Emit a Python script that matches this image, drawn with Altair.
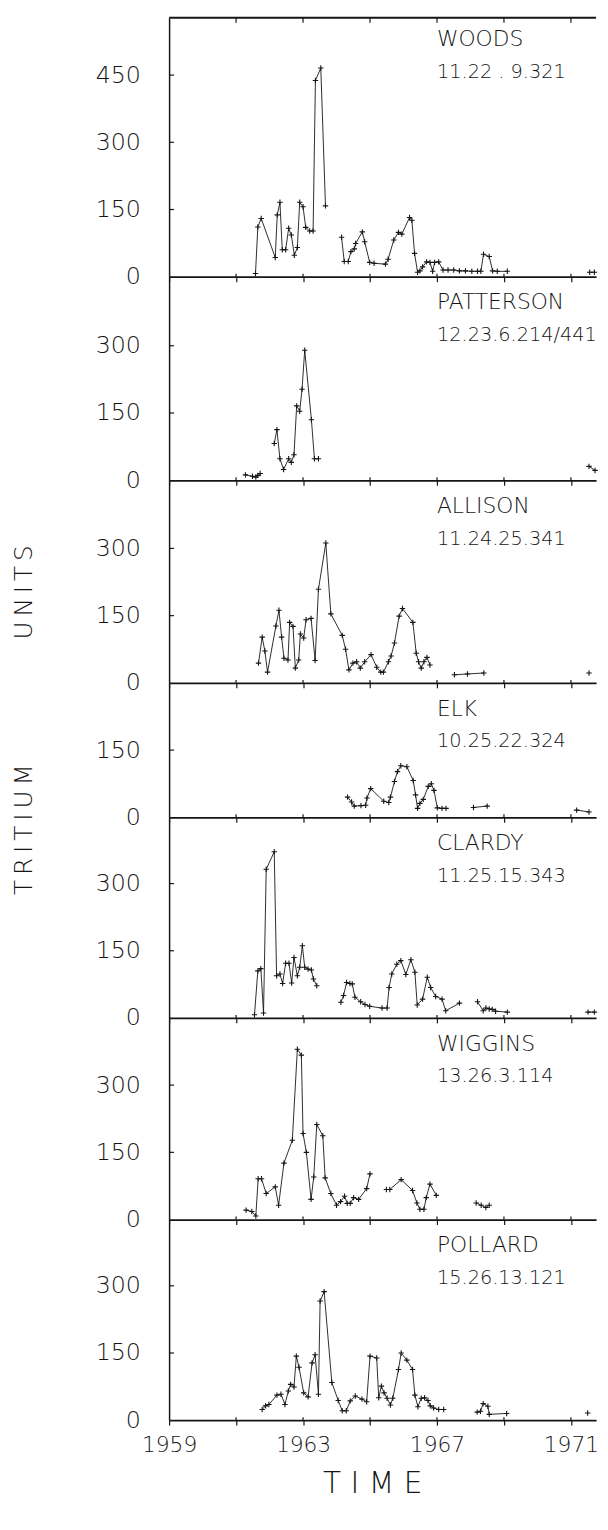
import altair as alt
import pandas as pd

FONT = "DejaVu Sans"
WEIGHT = 200
INK = "#151515"

NAMES = ["WOODS", "PATTERSON", "ALLISON", "ELK", "CLARDY", "WIGGINS", "POLLARD"]
CODES = ["11.22 . 9.321", "12.23.6.214/441", "11.24.25.341", "10.25.22.324",
         "11.25.15.343", "13.26.3.114", "15.26.13.121"]
X_TITLE = "T I M E"
Y_MAX = [578, 454, 452, 300, 448, 450, 448]
Y_TICKS = [[0, 150, 300, 450], [0, 150, 300], [0, 150, 300], [0, 150],
           [0, 150, 300], [0, 150, 300], [0, 150, 300]]
X_TICKS = [1959, 1961, 1963, 1965, 1967, 1969, 1971]
X_DOMAIN = [1959, 1971.75]

WOODS_T = [1961.58, 1961.65, 1961.75, 1962.17, 1962.23, 1962.31, 1962.38, 1962.48, 1962.57, 1962.65,
           1962.74, 1962.83, 1962.90, 1963.00, 1963.08, 1963.20, 1963.30, 1963.37, 1963.53, 1963.67,
           1964.15, 1964.23, 1964.35, 1964.43, 1964.53, 1964.57, 1964.77, 1964.84, 1964.99, 1965.12,
           1965.46, 1965.54, 1965.71, 1965.85, 1965.95, 1966.18, 1966.25, 1966.33, 1966.42, 1966.49,
           1966.57, 1966.69, 1966.79, 1966.87, 1966.93, 1967.05, 1967.18, 1967.33, 1967.50, 1967.67,
           1967.85, 1968.04, 1968.21, 1968.31, 1968.39, 1968.56, 1968.66, 1968.80, 1969.10,
           1971.56, 1971.70]
WOODS_V = [7, 111, 130, 43, 138, 166, 60, 60, 108, 93,
           48, 65, 166, 156, 110, 102, 102, 438, 466, 158,
           88, 34, 34, 56, 62, 74, 100, 78, 32, 30,
           28, 39, 82, 99, 95, 132, 126, 52, 10, 13,
           22, 33, 32, 12, 32, 33, 15, 15, 15, 13,
           13, 12, 12, 12, 50, 45, 13, 12, 12,
           10, 10]
WOODS_RUNS = [20, 39, 2]

PATTERSON_T = [1961.28, 1961.49, 1961.59, 1961.65, 1961.72,
               1962.14, 1962.22, 1962.31, 1962.42, 1962.57, 1962.65, 1962.73, 1962.81, 1962.90,
               1962.97, 1963.05, 1963.25, 1963.34, 1963.46,
               1971.54, 1971.72]
PATTERSON_V = [12, 9, 7, 11, 15,
               82, 113, 48, 24, 48, 40, 57, 166, 154,
               203, 290, 135, 48, 48,
               31, 22]
PATTERSON_RUNS = [5, 14, 2]

ALLISON_T = [1961.67, 1961.78, 1961.86, 1961.94, 1962.19, 1962.28, 1962.36, 1962.43, 1962.55, 1962.60,
             1962.70, 1962.77, 1962.87, 1962.92, 1963.02, 1963.09, 1963.24, 1963.36, 1963.46, 1963.68,
             1963.83, 1964.17, 1964.27, 1964.37, 1964.49, 1964.60, 1964.71, 1964.84, 1965.03, 1965.20,
             1965.32, 1965.40, 1965.55, 1965.63, 1965.73, 1965.87, 1965.97, 1966.28, 1966.38, 1966.45,
             1966.53, 1966.61, 1966.70, 1966.79,
             1967.52, 1967.91, 1968.40,
             1971.54]
ALLISON_V = [44, 102, 71, 24, 127, 162, 102, 55, 51, 135,
             126, 33, 51, 109, 100, 141, 144, 50, 209, 312,
             154, 106, 75, 29, 44, 47, 33, 47, 63, 35,
             24, 24, 47, 60, 89, 149, 166, 135, 66, 47,
             33, 47, 57, 40,
             18, 20, 22,
             22]
ALLISON_RUNS = [44, 3, 1]

ELK_T = [1964.33, 1964.45, 1964.53, 1964.73, 1964.87, 1964.91, 1965.02, 1965.41, 1965.56, 1965.61,
         1965.73, 1965.82, 1965.92, 1966.10, 1966.29, 1966.36, 1966.42, 1966.49, 1966.59, 1966.74,
         1966.83, 1966.91, 1967.01, 1967.15, 1967.27,
         1968.09, 1968.50,
         1971.17, 1971.54]
ELK_V = [45, 34, 25, 26, 27, 43, 64, 36, 33, 45,
         80, 102, 115, 113, 82, 50, 20, 31, 40, 69,
         75, 60, 21, 20, 20,
         22, 25,
         16, 12]
ELK_RUNS = [25, 2, 2]

CLARDY_T = [1961.55, 1961.65, 1961.74, 1961.82, 1961.90, 1962.14, 1962.21, 1962.31, 1962.39, 1962.48,
            1962.58, 1962.66, 1962.73, 1962.83, 1962.90, 1962.98, 1963.05, 1963.15, 1963.25, 1963.31,
            1963.41,
            1964.13, 1964.21, 1964.30, 1964.40, 1964.47, 1964.55, 1964.72, 1964.85, 1964.99, 1965.36,
            1965.51, 1965.57, 1965.65, 1965.80, 1965.92, 1966.07, 1966.22, 1966.34, 1966.41, 1966.57,
            1966.71, 1966.81, 1966.96, 1967.15, 1967.26, 1967.67,
            1968.21, 1968.38, 1968.46, 1968.56, 1968.65, 1968.75, 1969.10,
            1971.51, 1971.70]
CLARDY_V = [7, 105, 110, 11, 332, 371, 94, 98, 77, 122,
            122, 78, 135, 94, 113, 161, 113, 109, 107, 87,
            72,
            35, 50, 79, 77, 76, 46, 36, 30, 26, 22,
            22, 68, 98, 120, 128, 97, 130, 102, 29, 42,
            91, 68, 48, 42, 16, 33,
            36, 16, 22, 20, 19, 15, 13,
            13, 13]
CLARDY_RUNS = [21, 26, 7, 2]

WIGGINS_T = [1961.30, 1961.47, 1961.59, 1961.66, 1961.76, 1961.90, 1962.17, 1962.27, 1962.43, 1962.68,
             1962.83, 1962.95, 1963.00, 1963.10, 1963.24, 1963.32, 1963.41, 1963.59, 1963.66, 1963.83,
             1964.00, 1964.12, 1964.24, 1964.32, 1964.41, 1964.51, 1964.66, 1964.90, 1965.00,
             1965.49, 1965.59, 1965.93, 1966.27, 1966.40, 1966.49, 1966.61, 1966.68, 1966.79, 1966.98,
             1968.17, 1968.32, 1968.46, 1968.56]
WIGGINS_V = [21, 18, 8, 91, 91, 58, 73, 32, 126, 177,
             380, 367, 192, 150, 45, 95, 212, 187, 93, 58,
             32, 40, 52, 36, 36, 49, 45, 69, 102,
             67, 67, 89, 65, 37, 23, 23, 49, 79, 54,
             37, 32, 27, 32]
WIGGINS_RUNS = [29, 10, 4]

POLLARD_T = [1961.78, 1961.88, 1961.98, 1962.22, 1962.34, 1962.46, 1962.56, 1962.63, 1962.73, 1962.80,
             1962.88, 1963.02, 1963.15, 1963.27, 1963.36, 1963.46, 1963.51, 1963.63, 1963.86, 1964.05,
             1964.17, 1964.29, 1964.41, 1964.56, 1964.76, 1964.90, 1965.00, 1965.20, 1965.26, 1965.34,
             1965.42, 1965.51, 1965.61, 1965.68, 1965.85, 1965.93, 1966.10, 1966.27, 1966.34, 1966.43,
             1966.53, 1966.63, 1966.73, 1966.80, 1966.90, 1967.05, 1967.20,
             1968.20, 1968.30, 1968.38, 1968.52, 1968.56, 1969.08,
             1971.50]
POLLARD_V = [24, 32, 35, 56, 58, 35, 65, 80, 74, 143,
             118, 61, 52, 128, 146, 58, 266, 287, 84, 44,
             21, 21, 43, 54, 47, 41, 143, 139, 50, 76,
             61, 49, 34, 49, 113, 150, 134, 113, 56, 30,
             49, 50, 44, 32, 27, 24, 24,
             18, 20, 37, 31, 13, 15,
             16]
POLLARD_RUNS = [47, 6, 1]

SERIES = [
    (WOODS_T, WOODS_V, WOODS_RUNS),
    (PATTERSON_T, PATTERSON_V, PATTERSON_RUNS),
    (ALLISON_T, ALLISON_V, ALLISON_RUNS),
    (ELK_T, ELK_V, ELK_RUNS),
    (CLARDY_T, CLARDY_V, CLARDY_RUNS),
    (WIGGINS_T, WIGGINS_V, WIGGINS_RUNS),
    (POLLARD_T, POLLARD_V, POLLARD_RUNS),
]

PX_PER_UNIT = 68 / 150.0
W = 432
PLUS = "M-1,0L1,0M0,-1L0,1"


def seg_ids(runs):
    out = []
    for k, n in enumerate(runs):
        out += [k] * n
    return out


def panel(i):
    t, v, runs = SERIES[i]
    df = pd.DataFrame({"t": t, "v": v, "seg": seg_ids(runs)})
    ymax = Y_MAX[i]
    h = round(ymax * PX_PER_UNIT)
    last = i == len(NAMES) - 1

    xs = alt.Scale(domain=X_DOMAIN, nice=False, zero=False)
    ys = alt.Scale(domain=[0, ymax], nice=False, zero=True)

    xaxis_kw = dict(values=X_TICKS, format="d", grid=False, domain=True,
                    domainColor=INK, domainWidth=1.8, ticks=True, tickSize=5,
                    tickWidth=1.2, tickColor=INK, labelOverlap=False, labelFlush=False,
                    labelBound=False, title=None)
    if last:
        xaxis = alt.Axis(labels=True, labelFontSize=22, labelPadding=10,
                         labelExpr="(datum.value - 1959) % 4 == 0 ? datum.label : ''",
                         **xaxis_kw)
    else:
        xaxis = alt.Axis(labels=False, **xaxis_kw)

    yaxis_kw = dict(values=Y_TICKS[i], grid=False, domain=True, domainColor=INK,
                    domainWidth=1.5, ticks=False, tickSize=0, labelFontSize=24,
                    labelPadding=29, labelOverlap=False, labelBound=False, labelFlush=False)
    if NAMES[i] == "ALLISON":
        yaxis = alt.Axis(title="U\u2009N\u2009I\u2009T\u2009S", titleFontSize=25,
                         titleX=-134, titleY=113, titleAngle=270, titleAlign="center",
                         titleBaseline="bottom", **yaxis_kw)
    elif NAMES[i] == "ELK":
        yaxis = alt.Axis(title="T\u2009R\u2009I\u2009T\u2009I\u2009U\u2009M", titleFontSize=25,
                         titleX=-134, titleY=148, titleAngle=270, titleAlign="center",
                         titleBaseline="bottom", **yaxis_kw)
    else:
        yaxis = alt.Axis(title=None, **yaxis_kw)

    base = alt.Chart(df)
    line = base.mark_line(color=INK, strokeWidth=0.9).encode(
        x=alt.X("t:Q", scale=xs, axis=xaxis),
        y=alt.Y("v:Q", scale=ys, axis=yaxis),
        detail="seg:N",
        order="t:Q",
    )
    pts = base.mark_point(shape=PLUS, filled=False, color=INK, strokeWidth=1.1,
                          size=30, opacity=1).encode(
        x=alt.X("t:Q", scale=xs), y=alt.Y("v:Q", scale=ys))

    ytick_df = pd.DataFrame({"v": [val for val in Y_TICKS[i] if val > 0]})
    yticks = alt.Chart(ytick_df).mark_rule(color=INK, strokeWidth=1.2).encode(
        y=alt.Y("v:Q", scale=ys), x=alt.value(0), x2=alt.value(5))

    xtick_df = pd.DataFrame({"t": X_TICKS[1:]})
    xticks_up = alt.Chart(xtick_df).mark_rule(color=INK, strokeWidth=1.2).encode(
        x=alt.X("t:Q", scale=xs), y=alt.value(h - 3), y2=alt.value(h))

    lbl_df = pd.DataFrame({"name": [NAMES[i]], "code": [CODES[i]]})
    name_txt = alt.Chart(lbl_df).mark_text(align="left", baseline="middle", font=FONT,
                                           fontSize=22, fontWeight=WEIGHT, color=INK).encode(
        x=alt.datum(1967), y=alt.value(22 if i == 0 else 26), text="name:N")
    code_txt = alt.Chart(lbl_df).mark_text(align="left", baseline="middle", font=FONT,
                                           fontSize=19.5, fontWeight=WEIGHT, color=INK).encode(
        x=alt.datum(1967), y=alt.value(55 if i == 0 else 59), text="code:N")

    layers = [line, pts, yticks, xticks_up, name_txt, code_txt]
    if i == 0:
        frame = alt.Chart(pd.DataFrame({"k": [0]})).mark_rule(color=INK, strokeWidth=1.8).encode(
            x=alt.value(0), x2=alt.value(W), y=alt.value(0))
        top_ticks = alt.Chart(xtick_df).mark_rule(color=INK, strokeWidth=1.2).encode(
            x=alt.X("t:Q", scale=xs), y=alt.value(0), y2=alt.value(5))
        layers += [frame, top_ticks]
    if last:
        time_txt = alt.Chart(pd.DataFrame({"title": [X_TITLE]})).mark_text(
            align="center", baseline="alphabetic", font=FONT, fontSize=30,
            fontWeight=WEIGHT, color=INK).encode(
            x=alt.datum(1965.08), y=alt.value(h + 74), text="title:N")
        layers.append(time_txt)
    return alt.layer(*layers).properties(width=W, height=h)


chart = alt.vconcat(*[panel(i) for i in range(len(NAMES))], spacing=0, bounds="flush").properties(
    padding={"left": 4, "top": 0, "right": 0, "bottom": 0},
    background="white",
).configure_view(stroke=None).configure_axis(
    labelFont=FONT, titleFont=FONT, labelColor=INK, titleColor=INK,
    titleFontWeight=WEIGHT, labelFontWeight=WEIGHT,
)

chart.save("out.html", embed_options={"renderer": "svg", "actions": False})
